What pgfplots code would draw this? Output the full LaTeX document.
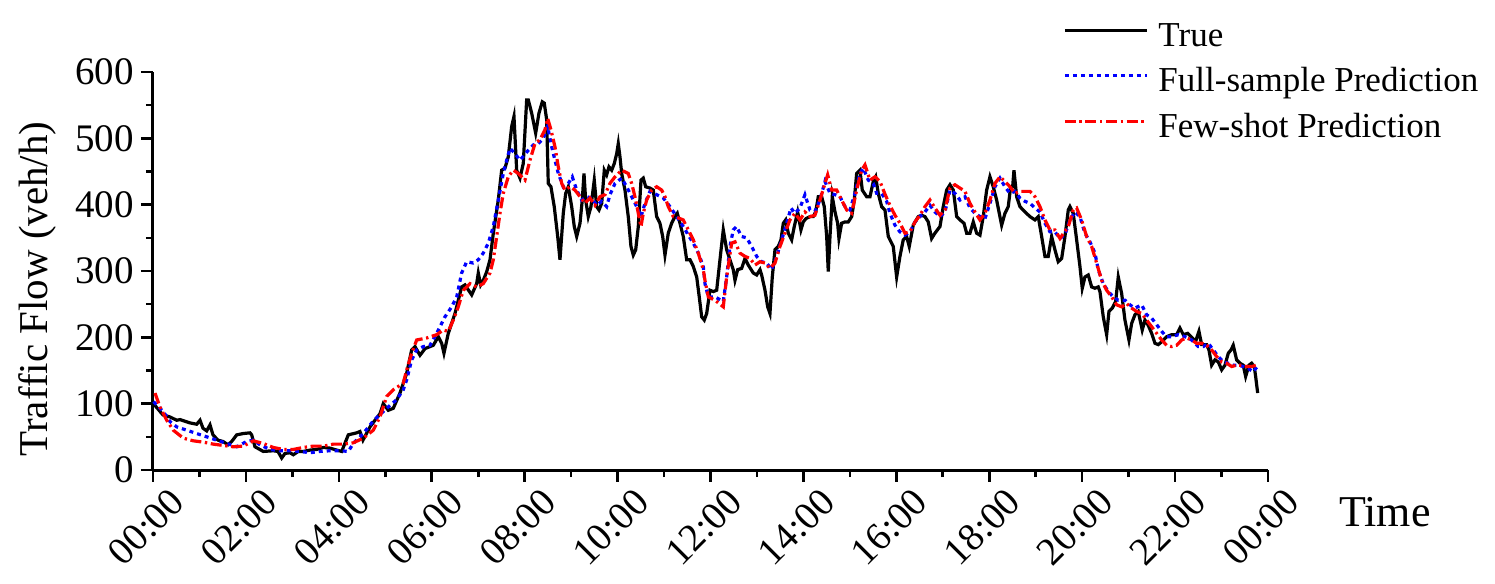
\documentclass[border=0pt]{standalone}
\usepackage{pgfplots}
\pgfplotsset{compat=1.18}
\usepackage{fontspec}
\setmainfont{Liberation Serif}

\begin{document}
\begin{tikzpicture}
\begin{axis}[
  scale only axis,
  width=557.5pt, height=199pt,
  xmin=0, xmax=24, ymin=0, ymax=600,
  enlargelimits=false,
  clip=false,
  axis x line*=bottom, axis y line*=left,
  axis line style={line width=1.5pt, -},
  tick align=outside,
  major tick length=6pt, minor tick length=3.5pt,
  every tick/.style={line width=1.3pt, black},
  xtick={0,2,...,24},
  minor xtick={1,3,...,23},
  xticklabels={00:00,02:00,04:00,06:00,08:00,10:00,12:00,14:00,16:00,18:00,20:00,22:00,00:00},
  ytick={0,100,...,600},
  minor ytick={50,150,...,550},
  /pgf/number format/assume math mode=true,
  tick label style={font=\fontsize{19.5}{22}\selectfont},
  yticklabel style={font=\fontsize{19.5}{22}\selectfont},
  xticklabel style={font=\fontsize{19.5}{22}\selectfont, xshift=-3.5pt, yshift=-22.5pt, rotate=45, anchor=center},
  ylabel={Traffic Flow (veh/h)},
  ylabel style={font=\fontsize{20.5}{24}\selectfont, at={(axis description cs:-0.104,0.455)}, anchor=center},
  legend style={draw=none, fill=none, at={(rel axis cs:0.816,1.131)}, anchor=north west,
    inner sep=0pt, row sep=4.75pt, column sep=4pt,
    nodes={font=\fontsize{17.5}{20}\selectfont, inner sep=1pt, text height=12pt, text depth=4pt}},
  legend cell align=left,
  legend image code/.code={\draw[#1] (0pt,4pt) -- (41pt,4pt);},
]
\addplot[black, line width=1.6pt] table {
0.01 100
0.215 83
0.366 80
0.510 75
0.581 76
0.796 71
0.941 69
1.012 75
1.076 63
1.156 59
1.227 68
1.291 53
1.399 45
1.507 43
1.614 38
1.694 43
1.802 53
1.944 55
2.088 56
2.124 53
2.195 35
2.374 28
2.589 29
2.690 28
2.770 18
2.841 25
2.949 26
3.020 23
3.127 28
3.235 28
3.379 30
3.523 31
3.666 34
3.810 33
3.954 30
4.062 28
4.204 53
4.384 56
4.455 58
4.520 45
4.671 65
4.886 85
4.957 100
5.065 90
5.172 93
5.316 116
5.461 146
5.568 181
5.639 186
5.747 173
5.855 183
6.033 188
6.141 201
6.214 191
6.263 176
6.356 206
6.500 236
6.644 276
6.715 279
6.860 264
6.967 281
7.002 297
7.053 279
7.109 286
7.183 299
7.254 317
7.325 357
7.432 407
7.505 452
7.576 455
7.647 472
7.721 518
7.770 533
7.828 452
7.899 440
7.970 462
8.043 558
8.078 558
8.151 538
8.237 508
8.308 538
8.379 555
8.422 553
8.474 528
8.508 432
8.566 427
8.637 397
8.711 352
8.760 317
8.831 387
8.883 417
8.939 427
9.012 397
9.068 367
9.120 352
9.191 372
9.240 407
9.277 447
9.313 407
9.369 382
9.427 397
9.498 437
9.550 397
9.600 392
9.658 402
9.714 452
9.765 445
9.815 457
9.873 452
9.929 462
9.981 477
10.015 492
10.052 472
10.088 447
10.159 422
10.230 382
10.288 337
10.338 324
10.390 332
10.446 367
10.504 437
10.553 440
10.605 427
10.697 425
10.768 422
10.841 382
10.912 372
10.971 352
11.020 324
11.091 357
11.164 372
11.235 382
11.285 387
11.343 372
11.414 352
11.487 317
11.558 317
11.629 307
11.703 291
11.758 261
11.810 231
11.866 226
11.918 236
11.989 271
12.060 269
12.133 271
12.204 317
12.275 362
12.348 332
12.419 317
12.490 302
12.527 286
12.585 302
12.671 304
12.742 319
12.813 309
12.921 297
12.994 294
13.065 302
13.101 294
13.173 271
13.231 246
13.280 236
13.330 291
13.388 332
13.459 337
13.517 347
13.567 372
13.618 377
13.674 357
13.747 347
13.803 367
13.876 389
13.947 362
13.997 374
14.055 379
14.141 382
14.212 382
14.264 389
14.320 412
14.393 412
14.449 397
14.501 352
14.535 299
14.572 352
14.621 412
14.680 389
14.737 372
14.765 349
14.823 372
14.894 374
14.966 374
15.039 382
15.095 407
15.146 447
15.217 452
15.267 422
15.362 412
15.433 412
15.504 435
15.555 442
15.611 417
15.684 397
15.755 392
15.827 352
15.934 337
16.007 291
16.078 322
16.149 347
16.222 352
16.278 337
16.364 369
16.472 382
16.545 384
16.616 382
16.687 374
16.760 349
16.831 357
16.939 367
17.010 397
17.083 422
17.155 430
17.226 422
17.299 382
17.370 377
17.456 372
17.514 357
17.585 357
17.656 374
17.729 357
17.800 354
17.871 382
17.944 422
18.015 442
18.086 427
18.159 407
18.267 369
18.338 387
18.409 397
18.461 427
18.504 427
18.532 452
18.590 412
18.661 397
18.769 389
18.877 382
18.984 377
19.055 382
19.128 352
19.199 322
19.270 322
19.343 352
19.414 332
19.485 314
19.559 319
19.630 352
19.701 392
19.737 397
19.808 387
19.881 347
19.952 307
20.002 274
20.060 291
20.131 294
20.204 276
20.275 274
20.346 276
20.383 269
20.454 231
20.527 204
20.577 239
20.648 244
20.721 254
20.777 291
20.850 266
20.921 226
21.007 196
21.065 221
21.136 234
21.207 239
21.293 211
21.351 226
21.422 218
21.496 206
21.567 191
21.638 189
21.724 194
21.819 201
21.926 204
22.034 204
22.105 214
22.176 204
22.271 206
22.342 201
22.443 194
22.514 209
22.572 189
22.680 189
22.729 181
22.787 158
22.858 166
22.930 163
23.003 151
23.074 158
23.145 176
23.203 181
23.252 188
23.325 166
23.396 161
23.467 158
23.519 141
23.590 158
23.648 161
23.704 156
23.734 141
23.778 116
};
\addlegendentry{True}
\addplot[blue, line width=1.6pt, dash pattern=on 2pt off 2pt] table {
0.01 103
0.222 88
0.366 73
0.510 65
0.725 60
0.941 55
1.156 50
1.371 45
1.586 40
1.802 35
2.017 43
2.159 45
2.303 38
2.518 31
2.734 29
2.949 29
3.164 28
3.379 26
3.594 28
3.810 29
4.025 29
4.204 28
4.311 40
4.526 55
4.742 74
5.030 93
5.245 106
5.387 121
5.461 136
5.568 166
5.676 181
5.818 186
5.962 188
6.106 206
6.214 221
6.285 231
6.429 246
6.537 261
6.644 297
6.752 314
6.894 312
7.002 317
7.109 327
7.217 342
7.325 367
7.432 407
7.540 447
7.613 467
7.684 485
7.792 477
7.899 467
8.078 482
8.185 490
8.293 492
8.401 500
8.495 518
8.582 487
8.653 467
8.724 447
8.831 427
8.939 432
9.025 442
9.120 422
9.227 407
9.335 412
9.442 410
9.550 399
9.658 405
9.765 397
9.836 415
9.944 432
10.088 440
10.196 427
10.303 412
10.411 397
10.504 382
10.590 402
10.697 420
10.841 415
10.984 410
11.128 397
11.272 382
11.414 367
11.522 354
11.629 342
11.737 327
11.845 307
11.881 281
11.952 261
12.096 261
12.275 254
12.348 291
12.419 337
12.490 362
12.559 367
12.671 352
12.778 350
12.886 337
12.994 322
13.101 314
13.209 312
13.317 302
13.425 322
13.532 347
13.640 372
13.732 395
13.818 387
13.926 395
14.033 415
14.141 392
14.248 390
14.356 407
14.464 435
14.572 417
14.680 415
14.787 412
14.895 397
15.002 392
15.110 417
15.217 447
15.288 455
15.396 437
15.504 432
15.577 417
15.684 417
15.792 405
15.863 387
15.971 369
16.078 359
16.186 354
16.294 359
16.401 374
16.509 382
16.616 389
16.724 399
16.831 389
16.939 382
17.047 389
17.155 422
17.262 417
17.370 407
17.478 412
17.585 395
17.693 387
17.800 382
17.908 379
18.015 402
18.123 427
18.231 440
18.338 427
18.446 417
18.554 420
18.661 410
18.769 405
18.877 402
18.984 395
19.092 389
19.199 372
19.307 359
19.414 359
19.522 349
19.630 355
19.737 377
19.845 389
19.952 382
20.060 357
20.168 344
20.275 327
20.346 302
20.454 281
20.562 269
20.669 261
20.777 256
20.921 256
21.028 249
21.136 244
21.281 249
21.388 234
21.496 229
21.604 219
21.711 209
21.819 201
21.926 201
22.069 204
22.213 201
22.357 196
22.499 186
22.607 186
22.715 191
22.822 181
22.930 171
23.037 163
23.145 161
23.252 158
23.360 158
23.467 156
23.575 153
23.682 148
23.790 158
};
\addlegendentry{Full-sample Prediction}
\addplot[red, line width=1.6pt, dash pattern=on 5.5pt off 1.8pt on 1.2pt off 1.8pt] table {
0.043 116
0.151 95
0.295 75
0.437 60
0.652 48
0.867 44
1.083 42
1.298 39
1.513 37
1.728 35
1.944 36
2.159 44
2.374 40
2.589 34
2.805 31
3.020 31
3.235 34
3.450 36
3.666 36
3.881 39
4.096 39
4.311 41
4.526 48
4.742 60
4.886 80
5.030 111
5.172 121
5.387 131
5.461 151
5.568 176
5.676 196
5.891 199
6.106 204
6.248 211
6.356 209
6.464 226
6.571 246
6.679 271
6.823 281
6.967 276
7.109 281
7.254 297
7.325 317
7.398 352
7.469 387
7.540 417
7.647 442
7.755 452
7.863 447
8.007 437
8.114 467
8.222 492
8.330 498
8.437 513
8.495 530
8.566 513
8.653 487
8.724 457
8.797 432
8.868 422
8.975 427
9.083 422
9.191 412
9.298 402
9.406 410
9.514 399
9.621 412
9.729 415
9.836 432
9.944 442
10.088 452
10.230 447
10.303 432
10.374 412
10.446 387
10.504 367
10.553 387
10.626 407
10.734 422
10.841 427
10.949 422
11.020 412
11.091 397
11.199 382
11.307 380
11.414 377
11.522 362
11.629 347
11.737 327
11.845 302
11.881 286
11.952 261
12.096 256
12.275 246
12.348 291
12.455 342
12.527 344
12.634 327
12.742 322
12.850 319
12.957 309
13.065 314
13.173 312
13.280 304
13.388 312
13.495 337
13.603 357
13.710 377
13.818 387
13.926 377
14.033 389
14.141 382
14.248 384
14.356 407
14.464 432
14.522 445
14.608 422
14.716 422
14.823 407
14.931 392
15.039 387
15.146 422
15.254 452
15.325 460
15.433 437
15.541 442
15.648 435
15.755 416
15.863 399
15.971 384
16.078 372
16.186 357
16.294 359
16.401 374
16.509 384
16.616 397
16.724 407
16.831 395
16.939 384
17.047 392
17.155 425
17.262 430
17.370 425
17.478 420
17.585 402
17.693 389
17.800 377
17.908 387
18.015 407
18.123 432
18.231 442
18.338 435
18.446 427
18.554 417
18.661 420
18.769 420
18.877 420
18.984 412
19.092 397
19.199 377
19.307 362
19.414 362
19.522 349
19.630 360
19.701 367
19.808 392
19.881 395
19.988 377
20.096 352
20.204 337
20.311 312
20.419 286
20.527 271
20.635 261
20.742 249
20.850 246
20.958 251
21.065 244
21.173 239
21.281 236
21.388 226
21.496 216
21.604 206
21.711 196
21.819 188
21.926 186
22.034 188
22.142 196
22.249 199
22.357 196
22.465 191
22.572 191
22.680 188
22.787 181
22.895 171
23.003 163
23.110 161
23.218 156
23.325 158
23.433 158
23.540 156
23.648 156
23.755 158
};
\addlegendentry{Few-shot Prediction}
\node[font=\fontsize{22}{26}\selectfont, anchor=center] at (rel axis cs:1.105,-0.1055) {Time};
\end{axis}
\pgfresetboundingbox
\path[use as bounding box] (-76.5pt,-57pt) rectangle (671pt,235pt);
\end{tikzpicture}
\end{document}
